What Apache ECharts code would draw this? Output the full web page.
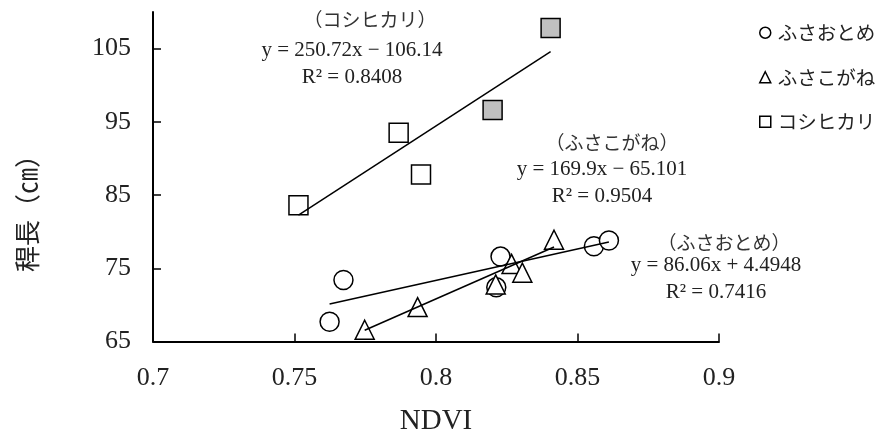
<!DOCTYPE html>
<html>
<head>
<meta charset="utf-8">
<script src="https://cdn.jsdelivr.net/npm/echarts@6/dist/echarts.min.js"></script>
<style>
  html, body { margin: 0; background: #fff; }
  #chart { width: 884px; height: 436px; }
</style>
</head>
<body>
<div id="chart"></div>
<script>
// data
const seriesNames = ['ふさおとめ', 'ふさこがね', 'コシヒカリ']
const fusaotomeNdvi = [0.7624, 0.7673, 0.8213, 0.8228, 0.8558, 0.8611]
const fusaotomeHeight = [67.7, 73.4, 72.4, 76.6, 78.0, 78.8]
const fusakoganeNdvi = [0.7748, 0.7935, 0.8211, 0.8267, 0.8305, 0.8417]
const fusakoganeHeight = [66.6, 69.7, 72.8, 75.6, 74.4, 78.9]
const koshiNdvi = [0.7514, 0.7868, 0.7947, 0.8200, 0.8405]
const koshiHeight = [83.6, 93.5, 87.8, 96.6, 107.8]
const koshiShaded = [false, false, false, true, true]
const trendSlope = [86.06, 169.9, 250.72]
const trendIntercept = [4.4948, -65.101, -106.14]
const trendR2 = ['0.7416', '0.9504', '0.8408']
const xTicks = [0.7, 0.75, 0.8, 0.85, 0.9]
const yTicks = [65, 75, 85, 95, 105]
const yMax = 110

const serif = '"Liberation Serif", "DejaVu Serif", serif'
const jp = '"Noto Sans CJK JP", sans-serif'

const xs = [fusaotomeNdvi, fusakoganeNdvi, koshiNdvi]
const ys = [fusaotomeHeight, fusakoganeHeight, koshiHeight]
const symbols = ['circle', 'triangle', 'rect']

const pairs = (a, b) => a.map((v, i) => [v, b[i]])

const scatterSeries = seriesNames.map((name, s) => ({
  name,
  type: 'scatter',
  symbol: symbols[s],
  symbolSize: 19,
  z: 2,
  itemStyle: { color: '#fff', borderColor: '#000', borderWidth: 1.5, opacity: 1 },
  data: pairs(xs[s], ys[s]).map((p, i) => (s === 2 && koshiShaded[i])
    ? { value: p, itemStyle: { color: '#c0c0c0' } }
    : p)
}))

// linear trend lines over the x range of each series
const trendSeries = seriesNames.map((name, s) => {
  const lo = Math.min(...xs[s])
  const hi = Math.max(...xs[s])
  return {
    name: name + ' trend',
    type: 'line',
    showSymbol: false,
    silent: true,
    z: 3,
    lineStyle: { color: '#000', width: 1.5 },
    data: [[lo, trendSlope[s] * lo + trendIntercept[s]], [hi, trendSlope[s] * hi + trendIntercept[s]]]
  }
})

const eqText = s => 'y = ' + trendSlope[s] + 'x ' + (trendIntercept[s] < 0 ? '− ' : '+ ') + Math.abs(trendIntercept[s])

// annotation anchors: [title, equation, r2] centres
const notePos = [
  [[724, 243], [716, 265], [716, 292]],
  [[612, 143], [602, 169], [602, 196]],
  [[370, 20], [352, 50], [352, 77]]
]

const notes = []
seriesNames.forEach((name, s) => {
  const [t, e, r] = notePos[s]
  notes.push({ type: 'text', x: t[0], y: t[1], style: { text: '（' + name + '）', font: '19px ' + jp, fill: '#333', textAlign: 'center', textVerticalAlign: 'middle' } })
  notes.push({ type: 'text', x: e[0], y: e[1], style: { text: eqText(s), font: '21px ' + serif, fill: '#222', textAlign: 'center', textVerticalAlign: 'middle' } })
  notes.push({ type: 'text', x: r[0], y: r[1], style: { text: 'R² = ' + trendR2[s], font: '21px ' + serif, fill: '#222', textAlign: 'center', textVerticalAlign: 'middle' } })
})
notes.push({ type: 'text', x: 27, y: 207, rotation: Math.PI / 2, style: { text: '稈長（㎝）', font: '26px ' + jp, fill: '#222', textAlign: 'center', textVerticalAlign: 'middle' } })

const chart = echarts.init(document.getElementById('chart'))
chart.setOption({
  animation: false,
  backgroundColor: '#fff',
  grid: { left: 153, right: 165, top: 12, bottom: 94.5, outerBoundsMode: 'none' },
  legend: {
    data: seriesNames,
    orient: 'vertical',
    left: 754,
    top: 18,
    itemWidth: 11,
    itemHeight: 11,
    itemGap: 25,
    textStyle: { fontFamily: jp, fontSize: 19.5, color: '#222', padding: [0, 0, 0, 2] },
    itemStyle: { color: '#fff', borderColor: '#000', borderWidth: 1.5 }
  },
  xAxis: {
    type: 'value',
    min: xTicks[0],
    max: xTicks[xTicks.length - 1],
    interval: 0.05,
    name: 'NDVI',
    nameLocation: 'middle',
    nameGap: 65,
    nameTextStyle: { fontFamily: serif, fontSize: 29, color: '#222' },
    splitLine: { show: false },
    axisLine: { lineStyle: { color: '#000', width: 2 } },
    axisTick: { inside: true, length: 8, lineStyle: { color: '#000', width: 1.5 } },
    axisLabel: { margin: 24, fontFamily: serif, fontSize: 26, color: '#222' }
  },
  yAxis: {
    type: 'value',
    min: yTicks[0],
    max: yMax,
    interval: 5,
    splitLine: { show: false },
    axisLine: { show: true, lineStyle: { color: '#000', width: 2 } },
    axisTick: { show: true, inside: true, length: 8, customValues: yTicks, lineStyle: { color: '#000', width: 1.5 } },
    axisLabel: { margin: 22, fontFamily: serif, fontSize: 26, color: '#222', customValues: yTicks }
  },
  graphic: notes,
  series: [...scatterSeries, ...trendSeries]
})
</script>
</body>
</html>
